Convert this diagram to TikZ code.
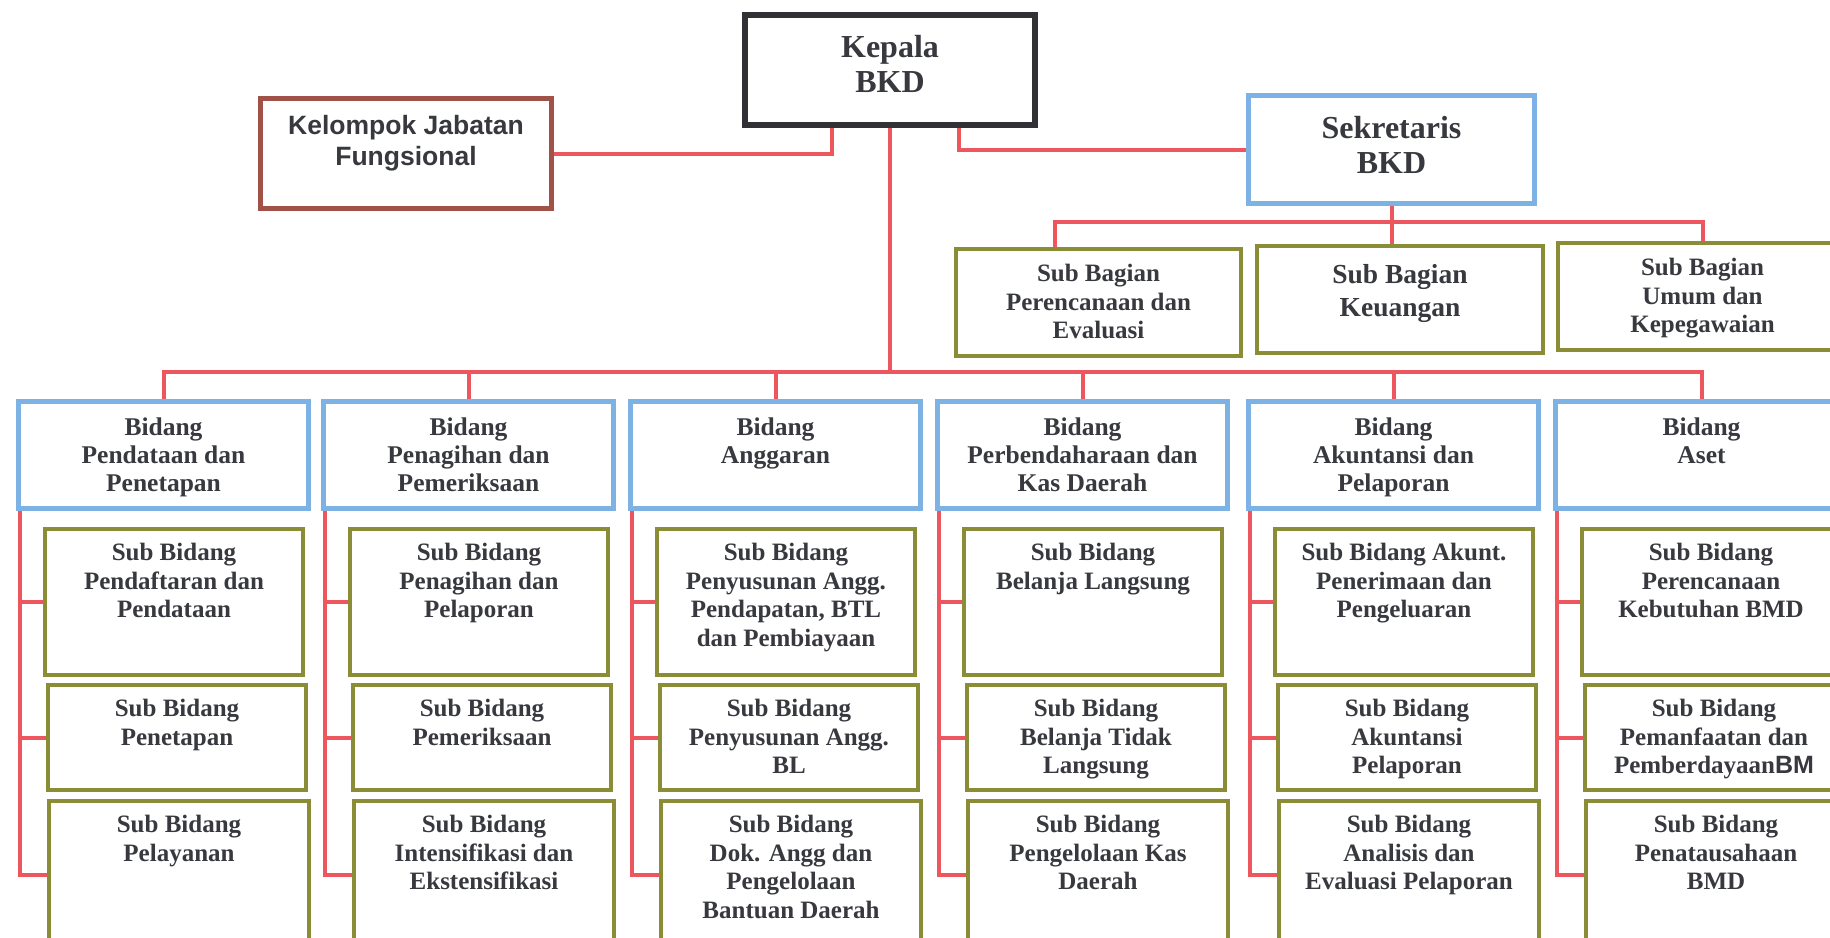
\documentclass[tikz,border=0pt]{standalone}
\usepackage{fontspec}
\setmainfont{Liberation Serif}
\newfontfamily\arialfont{Liberation Sans}
\definecolor{redc}{RGB}{238,86,94}
\definecolor{bluec}{RGB}{124,178,228}
\definecolor{greenc}{RGB}{138,140,54}
\definecolor{brownc}{RGB}{160,82,72}
\definecolor{darkc}{RGB}{50,50,54}
\definecolor{textc}{RGB}{55,57,62}
\tikzset{
 boxbase/.style={rectangle, inner sep=0pt, anchor=north west},
 kepbox/.style={boxbase, draw=darkc, line width=6pt},
 kelbox/.style={boxbase, draw=brownc, line width=5pt},
 bluebox/.style={boxbase, draw=bluec, line width=5pt, minimum width=290pt, minimum height=107pt},
 greenbox/.style={boxbase, draw=greenc, line width=4pt},
 subA/.style={greenbox, minimum width=258pt, minimum height=146pt},
 subB/.style={greenbox, minimum width=258pt, minimum height=105pt},
 subC/.style={greenbox, minimum width=260pt, minimum height=148pt},
 conn/.style={draw=redc, line width=4pt},
 txt/.style={inner sep=0pt, anchor=north, align=center, text=textc, font=\bfseries\fontsize{25}{28.5}\selectfont},
 bidtxt/.style={txt, font=\bfseries\fontsize{25.5}{28}\selectfont},
 bigtxt/.style={txt, font=\bfseries\fontsize{32}{35}\selectfont},
 midtxt/.style={txt, font=\bfseries\fontsize{27.5}{33}\selectfont},
 sanstxt/.style={txt, font=\arialfont\bfseries\fontsize{26.5}{31}\selectfont},
}
\begin{document}
\begin{tikzpicture}[x=1pt,y=-1pt]
\useasboundingbox (0,0) rectangle (1830,937);
\clip (0,0) rectangle (1830,937);
\fill[white] (0,0) rectangle (1830,937);

% top level
\node[kepbox, minimum width=290pt, minimum height=110pt] (kep) at (742,12) {};
\node[kelbox, minimum width=291pt, minimum height=110pt] (kel) at (258,96) {};
\node[bluebox, minimum width=286pt, minimum height=108pt] (sek) at (1246,93) {};
\node[greenbox, minimum width=285pt, minimum height=107pt] (sb1) at (954,247) {};
\node[greenbox, minimum width=286pt, minimum height=107pt] (sb2) at (1255,244) {};
\node[greenbox, minimum width=289pt, minimum height=107pt] (sb3) at (1556,241) {};

\node[bigtxt] (tkep) at ([yshift=-23pt]kep.north) {Kepala\\BKD};
\node[sanstxt] (tkel) at ([yshift=-19pt]kel.north) {Kelompok Jabatan\\Fungsional};
\node[bigtxt] (tsek) at ([yshift=-23pt]sek.north) {Sekretaris\\BKD};
\node[txt] (tsb1) at ([yshift=-17pt]sb1.north) {Sub Bagian\\Perencanaan dan\\Evaluasi};
\node[midtxt] (tsb2) at ([yshift=-20pt]sb2.north) {Sub Bagian\\Keuangan};
\node[txt] (tsb3) at ([yshift=-17pt]sb3.north) {Sub Bagian\\Umum dan\\Kepegawaian};

% bidang
\node[bluebox] (b1) at (16,399) {};
\node[bluebox] (b2) at (321,399) {};
\node[bluebox] (b3) at (628,399) {};
\node[bluebox] (b4) at (935,399) {};
\node[bluebox] (b5) at (1246,399) {};
\node[bluebox, minimum width=292pt] (b6) at (1553,399) {};

\node[bidtxt] (tb1) at ([yshift=-19pt]b1.north) {Bidang\\Pendataan dan\\Penetapan};
\node[bidtxt] (tb2) at ([yshift=-19pt]b2.north) {Bidang\\Penagihan dan\\Pemeriksaan};
\node[bidtxt] (tb3) at ([yshift=-19pt]b3.north) {Bidang\\Anggaran};
\node[bidtxt] (tb4) at ([yshift=-19pt]b4.north) {Bidang\\Perbendaharaan dan\\Kas Daerah};
\node[bidtxt] (tb5) at ([yshift=-19pt]b5.north) {Bidang\\Akuntansi dan\\Pelaporan};
\node[bidtxt] (tb6) at ([yshift=-19pt]b6.north) {Bidang\\Aset};

% sub bidang
\node[subA] (s1a) at (43,527) {};
\node[subB] (s1b) at (46,683) {};
\node[subC] (s1c) at (47,799) {};
\node[subA] (s2a) at (348,527) {};
\node[subB] (s2b) at (351,683) {};
\node[subC] (s2c) at (352,799) {};
\node[subA] (s3a) at (655,527) {};
\node[subB] (s3b) at (658,683) {};
\node[subC] (s3c) at (659,799) {};
\node[subA] (s4a) at (962,527) {};
\node[subB] (s4b) at (965,683) {};
\node[subC] (s4c) at (966,799) {};
\node[subA] (s5a) at (1273,527) {};
\node[subB] (s5b) at (1276,683) {};
\node[subC] (s5c) at (1277,799) {};
\node[subA] (s6a) at (1580,527) {};
\node[subB] (s6b) at (1583,683) {};
\node[subC] (s6c) at (1584,799) {};

\node[txt] (ts1a) at ([yshift=-16pt]s1a.north) {Sub Bidang\\Pendaftaran dan\\Pendataan};
\node[txt] (ts1b) at ([yshift=-16pt]s1b.north) {Sub Bidang\\Penetapan};
\node[txt] (ts1c) at ([yshift=-16pt]s1c.north) {Sub Bidang\\Pelayanan};
\node[txt] (ts2a) at ([yshift=-16pt]s2a.north) {Sub Bidang\\Penagihan dan\\Pelaporan};
\node[txt] (ts2b) at ([yshift=-16pt]s2b.north) {Sub Bidang\\Pemeriksaan};
\node[txt] (ts2c) at ([yshift=-16pt]s2c.north) {Sub Bidang\\Intensifikasi dan\\Ekstensifikasi};
\node[txt] (ts3a) at ([yshift=-16pt]s3a.north) {Sub Bidang\\Penyusunan Angg.\\Pendapatan, BTL\\dan Pembiayaan};
\node[txt] (ts3b) at ([yshift=-16pt]s3b.north) {Sub Bidang\\Penyusunan Angg.\\BL};
\node[txt] (ts3c) at ([yshift=-16pt]s3c.north) {Sub Bidang\\Dok. Angg dan\\Pengelolaan\\Bantuan Daerah};
\node[txt] (ts4a) at ([yshift=-16pt]s4a.north) {Sub Bidang\\Belanja Langsung};
\node[txt] (ts4b) at ([yshift=-16pt]s4b.north) {Sub Bidang\\Belanja Tidak\\Langsung};
\node[txt] (ts4c) at ([yshift=-16pt]s4c.north) {Sub Bidang\\Pengelolaan Kas\\Daerah};
\node[txt] (ts5a) at ([yshift=-16pt]s5a.north) {Sub Bidang Akunt.\\Penerimaan dan\\Pengeluaran};
\node[txt] (ts5b) at ([yshift=-16pt]s5b.north) {Sub Bidang\\Akuntansi\\Pelaporan};
\node[txt] (ts5c) at ([yshift=-16pt]s5c.north) {Sub Bidang\\Analisis dan\\Evaluasi Pelaporan};
\node[txt] (ts6a) at ([yshift=-16pt]s6a.north) {Sub Bidang\\Perencanaan\\Kebutuhan BMD};
\node[txt] (ts6b) at ([yshift=-16pt]s6b.north) {Sub Bidang\\Pemanfaatan dan\\Pemberdayaan{\arialfont BM}};
\node[txt] (ts6c) at ([yshift=-16pt]s6c.north) {Sub Bidang\\Penatausahaan\\BMD};

% connectors: top
\coordinate (bus) at (887,372);
\coordinate (sbus) at (1389,222);
\draw[conn] (kep.south) -- (kep.south |- bus);
\draw[conn] (kel.east) -| ([xshift=-58pt]kep.south);
\draw[conn] ([xshift=69pt]kep.south) |- (sek.west);
\draw[conn] (sek.south) -- (sek.south |- sb2.north);
\draw[conn] ([xshift=-44pt]sb1.north) |- (sb3.north |- sbus) -- (sb3.north);

% bus to bidang
\draw[conn] (b1.north) |- (b6.north |- bus) -- (b6.north);
\draw[conn] (b2.north) -- (b2.north |- bus);
\draw[conn] (b3.north) -- (b3.north |- bus);
\draw[conn] (b4.north) -- (b4.north |- bus);
\draw[conn] (b5.north) -- (b5.north |- bus);

% bidang to sub bidang
\foreach \i in {1,...,6}{
  \coordinate (v\i) at ([xshift=4pt]b\i.south west);
  \draw[conn] (v\i) |- (s\i c.west);
  \draw[conn] (v\i |- s\i a.west) -- (s\i a.west);
  \draw[conn] (v\i |- s\i b.west) -- (s\i b.west);
}
\end{tikzpicture}
\end{document}
